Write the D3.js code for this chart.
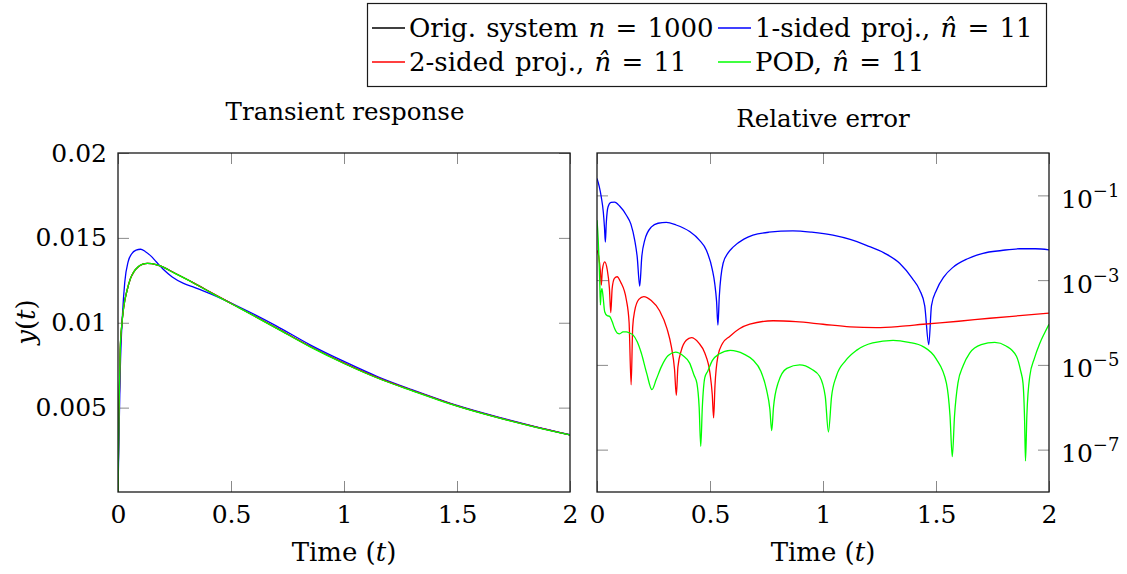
<!DOCTYPE html>
<html>
<head>
<meta charset="utf-8">
<script src="https://cdn.jsdelivr.net/npm/d3@7"></script>
<style>
  body { margin: 0; background: #fff; }
  svg { display: block; font-family: "DejaVu Serif", "Liberation Serif", serif; }
  svg text { font-family: "DejaVu Serif", "Liberation Serif", serif; }
</style>
</head>
<body>
<script>
// ---- transient response, y(t) ----
const respT = [0, 0.004, 0.01, 0.017, 0.025, 0.04, 0.055, 0.07, 0.09, 0.11, 0.13, 0.15, 0.19, 0.25,
  0.33, 0.42, 0.53, 0.7, 0.85, 1.0, 1.15, 1.3, 1.5, 1.7, 1.85, 2.0];
const respOrig = [0, 0.0045, 0.0084, 0.0099, 0.0109, 0.0119, 0.0126, 0.0130, 0.01330, 0.01345, 0.01350,
  0.01348, 0.01333, 0.01293, 0.01238, 0.01172, 0.01093, 0.00970, 0.00860, 0.00762, 0.00675, 0.00602,
  0.00510, 0.00435, 0.00385, 0.00339];
// 2-sided and POD lie on top of the original system
const respTwoSided = [0, 0.0045, 0.0084, 0.0099, 0.0109, 0.0119, 0.0126, 0.0130, 0.01330, 0.01345, 0.01350,
  0.01348, 0.01333, 0.01293, 0.01238, 0.01172, 0.01093, 0.00970, 0.00860, 0.00762, 0.00675, 0.00602,
  0.00510, 0.00435, 0.00385, 0.00339];
const respPod = [0, 0.0046, 0.0085, 0.0099, 0.0109, 0.0119, 0.0126, 0.0130, 0.01331, 0.01346, 0.01350,
  0.01348, 0.01333, 0.01292, 0.01237, 0.01170, 0.01092, 0.00968, 0.00858, 0.00760, 0.00673, 0.00600,
  0.00509, 0.00434, 0.00384, 0.00339];

const respOneT = [0, 0.004, 0.01, 0.02, 0.03, 0.045, 0.06, 0.08, 0.1, 0.12, 0.145, 0.17, 0.2, 0.24, 0.29,
  0.34, 0.41, 0.53, 0.7, 0.85, 1.0, 1.15, 1.3, 1.5, 1.7, 1.85, 2.0];
const respOneSided = [0, 0.0030, 0.0072, 0.0105, 0.0124, 0.0136, 0.01405, 0.01428, 0.01433, 0.01420,
  0.01394, 0.01358, 0.01315, 0.01270, 0.01232, 0.01207, 0.01170, 0.01097, 0.00982, 0.00870, 0.00772,
  0.00682, 0.00606, 0.00513, 0.00438, 0.00387, 0.00340];

// ---- relative error ----
const errOneT = [0, 0.01, 0.019, 0.028, 0.033, 0.037, 0.041, 0.049, 0.062, 0.078, 0.10, 0.13, 0.15, 0.167,
  0.178, 0.189, 0.198, 0.211, 0.241, 0.27, 0.307, 0.35, 0.41, 0.454, 0.484, 0.51, 0.521, 0.529, 0.535,
  0.541, 0.558, 0.58, 0.602, 0.65, 0.69, 0.76, 0.867, 0.95, 1.044, 1.12, 1.192, 1.27, 1.339, 1.395,
  1.428, 1.45, 1.468, 1.48, 1.502, 1.535, 1.575, 1.64, 1.708, 1.79, 1.87, 1.94, 2.0];
const errOneSided = [2.5e-1, 1.6e-1, 9.1e-2, 4.0e-2, 1.8e-2, 7.9e-3, 2.2e-2, 5.4e-2, 6.8e-2, 6.9e-2,
  5.6e-2, 3.4e-2, 2.1e-2, 8.7e-3, 3.5e-3, 7.2e-4, 3.5e-3, 8.7e-3, 1.8e-2, 2.2e-2, 2.3e-2, 2.0e-2,
  1.4e-2, 8.7e-3, 5.1e-3, 1.8e-3, 8.3e-4, 3.2e-4, 8.7e-5, 4.0e-4, 2.5e-3, 4.4e-3, 6.0e-3, 9.3e-3,
  1.15e-2, 1.35e-2, 1.45e-2, 1.35e-2, 1.15e-2, 9.1e-3, 6.6e-3, 4.4e-3, 2.5e-3, 1.1e-3, 5.8e-4,
  2.5e-4, 3.0e-5, 2.5e-4, 5.8e-4, 1.2e-3, 2.0e-3, 3.2e-3, 4.3e-3, 5.0e-3, 5.5e-3, 5.5e-3, 5.2e-3];

const errTwoT = [0, 0.008, 0.015, 0.019, 0.024, 0.034, 0.045, 0.055, 0.061, 0.067, 0.077, 0.089, 0.105,
  0.13, 0.142, 0.151, 0.158, 0.167, 0.185, 0.207, 0.24, 0.277, 0.31, 0.329, 0.343, 0.351, 0.358, 0.373,
  0.395, 0.418, 0.45, 0.477, 0.5, 0.51, 0.516, 0.522, 0.535, 0.555, 0.587, 0.63, 0.676, 0.779, 0.88,
  1.0, 1.12, 1.236, 1.34, 1.443, 1.6, 1.738, 1.87, 2.0];
const errTwoSided = [5.1e-3, 3.5e-3, 1.6e-3, 7.6e-4, 1.8e-3, 2.7e-3, 1.8e-3, 6.3e-4, 1.7e-4, 6.3e-4,
  1.1e-3, 1.2e-3, 8.9e-4, 3.4e-4, 1.0e-4, 3.4e-6, 7.9e-5, 1.9e-4, 3.5e-4, 4.1e-4, 3.3e-4, 1.9e-4,
  7.1e-5, 2.7e-5, 7.9e-6, 1.9e-6, 8.9e-6, 2.2e-5, 3.8e-5, 4.4e-5, 3.3e-5, 1.9e-5, 6.3e-6, 2.0e-6,
  5.6e-7, 3.2e-6, 1.6e-5, 3.2e-5, 4.7e-5, 7.1e-5, 9.1e-5, 1.1e-4, 1.05e-4, 9.1e-5, 7.9e-5, 7.6e-5,
  8.1e-5, 9.1e-5, 1.07e-4, 1.26e-4, 1.45e-4, 1.66e-4];

const errPodT = [0, 0.005, 0.009, 0.012, 0.015, 0.018, 0.022, 0.027, 0.034, 0.045, 0.056, 0.067, 0.078,
  0.09, 0.1, 0.115, 0.13, 0.145, 0.159, 0.178, 0.196, 0.22, 0.243, 0.262, 0.285, 0.315, 0.348, 0.38,
  0.41, 0.43, 0.442, 0.452, 0.459, 0.466, 0.477, 0.49, 0.51, 0.54, 0.59, 0.65, 0.69, 0.725, 0.75, 0.765,
  0.773, 0.781, 0.801, 0.84, 0.897, 0.95, 0.985, 1.01, 1.024, 1.038, 1.059, 1.1, 1.148, 1.22, 1.31,
  1.38, 1.443, 1.5, 1.546, 1.562, 1.572, 1.582, 1.597, 1.62, 1.649, 1.7, 1.76, 1.81, 1.856, 1.875,
  1.885, 1.892, 1.896, 1.902, 1.915, 1.935, 1.959, 1.98, 2.0];
const errPod = [2.6e-2, 1.0e-2, 3.0e-3, 1.0e-3, 2.6e-4, 5.0e-4, 6.3e-4, 4.0e-4, 1.8e-4, 1.45e-4,
  1.4e-4, 1.05e-4, 7.2e-5, 5.6e-5, 5.4e-5, 6.0e-5, 6.0e-5, 5.6e-5, 5.1e-5, 3.5e-5, 1.9e-5, 6.3e-6,
  2.6e-6, 4.5e-6, 9.1e-6, 1.66e-5, 2.0e-5, 1.66e-5, 1.1e-5, 5.6e-6, 3.7e-6, 1.0e-6, 1.2e-7, 1.0e-6,
  5.0e-6, 7.1e-6, 1.26e-5, 1.8e-5, 2.2e-5, 1.8e-5, 1.3e-5, 7.1e-6, 2.6e-6, 8.9e-7, 2.8e-7, 1.0e-6,
  3.7e-6, 8.3e-6, 1.0e-5, 7.9e-6, 5.4e-6, 1.8e-6, 2.6e-7, 1.8e-6, 5.4e-6, 1.26e-5, 2.2e-5, 3.3e-5,
  3.8e-5, 3.4e-5, 2.7e-5, 1.4e-5, 3.7e-6, 6.3e-7, 6.8e-8, 6.3e-7, 3.7e-6, 9.5e-6, 1.9e-5, 3.0e-5,
  3.4e-5, 2.8e-5, 1.6e-5, 7.1e-6, 3.7e-6, 5.0e-7, 5.4e-8, 6.3e-7, 5.4e-6, 1.4e-5, 3.2e-5, 5.6e-5, 9.1e-5];

const xTicks = [0, 0.5, 1, 1.5, 2];
const respTicks = [0.005, 0.01, 0.015, 0.02];
const errTicks = [1e-1, 1e-3, 1e-5, 1e-7];

const W = 1127, H = 574;
const plotTop = 153, plotBottom = 492;
const tickLen = 11;
const tickColor = "#8a8a8a";
const fontFamily = "DejaVu Serif, Liberation Serif, serif";
const fs = 25;

const svg = d3.select("body").append("svg")
  .attr("width", W)
  .attr("height", H);

const xL = d3.scaleLinear().domain([0, 2]).range([118, 570]);
const yL = d3.scaleLinear().domain([0, 0.02]).range([plotBottom + 0.5, plotTop]);
const xR = d3.scaleLinear().domain([0, 2]).range([597, 1049]);
const yR = d3.scaleLog().domain([1e-8, 1]).range([plotBottom, plotTop]);

function styleAxis(g) {
  g.attr("font-family", fontFamily);
  g.select(".domain").remove();
  g.selectAll(".tick line").attr("stroke", tickColor).attr("stroke-width", 1);
  g.selectAll(".tick text")
    .attr("font-family", fontFamily)
    .attr("font-size", fs)
    .attr("fill", "#000");
}

function panel(x, y, yTicks, yFmt, yAxisRight, id) {
  const [x0, x1] = x.range();

  svg.append("g").attr("transform", `translate(0,${plotBottom})`)
    .call(d3.axisBottom(x).tickValues(xTicks).tickSize(-tickLen).tickPadding(13).tickFormat(d3.format("")))
    .call(styleAxis);
  svg.append("g").attr("transform", `translate(0,${plotTop})`)
    .call(d3.axisTop(x).tickValues(xTicks).tickSize(-tickLen).tickFormat(""))
    .call(styleAxis);

  svg.append("g").attr("transform", `translate(${x0},0)`)
    .call(d3.axisLeft(y).tickValues(yTicks).tickSize(-tickLen).tickPadding(11).tickFormat(yAxisRight ? "" : yFmt))
    .call(styleAxis);
  const yr = svg.append("g").attr("transform", `translate(${x1},0)`)
    .call(d3.axisRight(y).tickValues(yTicks).tickSize(-tickLen).tickPadding(12).tickFormat(""))
    .call(styleAxis);

  if (yAxisRight) {
    // 10^k labels
    yr.selectAll(".tick text").each(function (d) {
      const t = d3.select(this).attr("dy", null).attr("y", 12);
      t.append("tspan").text("10");
      t.append("tspan").attr("font-size", 18).attr("dy", -11)
        .text("\u2212" + Math.round(-Math.log10(d)));
    });
  }

  svg.append("clipPath").attr("id", id)
    .append("rect").attr("x", x0).attr("y", plotTop).attr("width", x1 - x0).attr("height", plotBottom - plotTop);

  return svg.append("g").attr("clip-path", `url(#${id})`);
}

const leftPanel = panel(xL, yL, respTicks, d3.format(""), false, "clipL");
const rightPanel = panel(xR, yR, errTicks, null, true, "clipR");

function curve(g, x, y, ts, vs, color) {
  const line = d3.line()
    .x((d) => x(d[0]))
    .y((d) => y(d[1]))
    .curve(d3.curveMonotoneX);
  g.append("path")
    .attr("d", line(ts.map((t, i) => [t, vs[i]])))
    .attr("fill", "none")
    .attr("stroke", color)
    .attr("stroke-width", 1.3);
}

curve(leftPanel, xL, yL, respT, respOrig, "#000");
curve(leftPanel, xL, yL, respOneT, respOneSided, "#0000ff");
curve(leftPanel, xL, yL, respT, respTwoSided, "#ff0000");
curve(leftPanel, xL, yL, respT, respPod, "#00ff00");

curve(rightPanel, xR, yR, errOneT, errOneSided, "#0000ff");
curve(rightPanel, xR, yR, errTwoT, errTwoSided, "#ff0000");
curve(rightPanel, xR, yR, errPodT, errPod, "#00ff00");

// frames on top
[xL, xR].forEach((x) => {
  const [x0, x1] = x.range();
  svg.append("rect")
    .attr("x", x0).attr("y", plotTop)
    .attr("width", x1 - x0).attr("height", plotBottom - plotTop)
    .attr("fill", "none").attr("stroke", "#1a1a1a").attr("stroke-width", 1.3);
});

// titles and axis labels
svg.append("text").attr("x", 345).attr("y", 120).attr("text-anchor", "middle")
  .attr("font-size", 24.5).text("Transient response");
svg.append("text").attr("x", 823).attr("y", 127).attr("text-anchor", "middle")
  .attr("font-size", 24.5).text("Relative error");

[344, 823].forEach((cx) => {
  const t = svg.append("text").attr("x", cx).attr("y", 561).attr("text-anchor", "middle").attr("font-size", 26);
  t.append("tspan").text("Time (");
  t.append("tspan").attr("font-style", "italic").text("t");
  t.append("tspan").text(")");
});

const yLabel = svg.append("text").attr("transform", "translate(35,322) rotate(-90)")
  .attr("text-anchor", "middle").attr("font-size", 26);
yLabel.append("tspan").attr("font-style", "italic").text("y");
yLabel.append("tspan").text("(");
yLabel.append("tspan").attr("font-style", "italic").text("t");
yLabel.append("tspan").text(")");

// legend
const legend = svg.append("g");
legend.append("rect")
  .attr("x", 367.5).attr("y", 3.5).attr("width", 679).attr("height", 83)
  .attr("fill", "#fff").attr("stroke", "#1a1a1a").attr("stroke-width", 1.2);

const legendItems = [
  { color: "#000", lx: 372, row: 0, parts: [["Orig. system ", false], ["n", true], [" = 1000", false]] },
  { color: "#0000ff", lx: 718, row: 0, parts: [["1-sided proj., ", false], ["n\u0302", true], [" = 11", false]] },
  { color: "#ff0000", lx: 372, row: 1, parts: [["2-sided proj., ", false], ["n\u0302", true], [" = 11", false]] },
  { color: "#00ff00", lx: 718, row: 1, parts: [["POD, ", false], ["n\u0302", true], [" = 11", false]] }
];

legendItems.forEach((it) => {
  const cy = 28 + it.row * 34;
  legend.append("line")
    .attr("x1", it.lx).attr("x2", it.lx + 33)
    .attr("y1", cy).attr("y2", cy)
    .attr("stroke", it.color).attr("stroke-width", 1.3);
  const t = legend.append("text")
    .attr("x", it.lx + 37).attr("y", cy + 9)
    .attr("font-size", 26).attr("word-spacing", 2);
  it.parts.forEach(([s, ital]) => {
    t.append("tspan").attr("font-style", ital ? "italic" : null).text(s);
  });
});
</script>
</body>
</html>
